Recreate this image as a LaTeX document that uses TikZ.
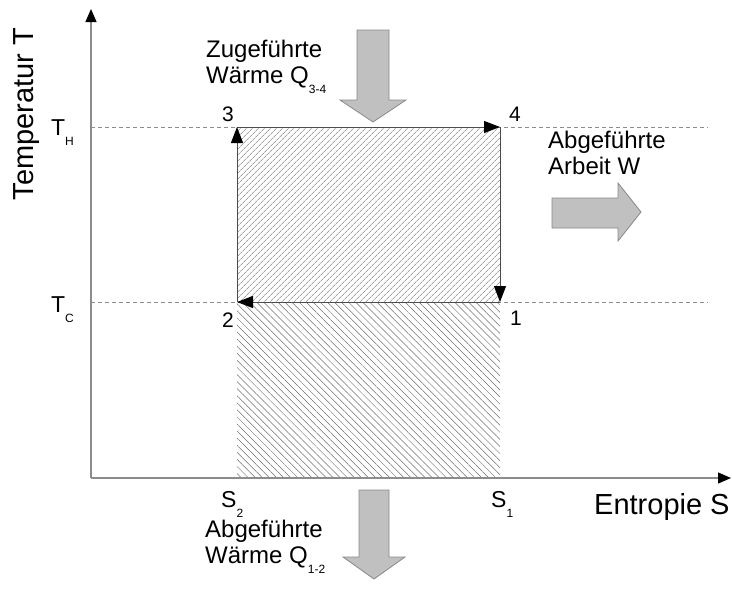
\documentclass[tikz,border=0pt]{standalone}
\usepackage{fontspec}
\setmainfont{Liberation Sans}
\usetikzlibrary{arrows.meta,patterns.meta}
\definecolor{axisgray}{HTML}{8C8C8C}
\definecolor{hatchgray}{HTML}{707070}
\definecolor{arrowfill}{HTML}{C0C0C0}
\definecolor{arrowedge}{HTML}{888888}
\newcommand{\lowsub}[1]{\raisebox{-10pt}{\fontsize{12}{12}\selectfont #1}}

\begin{document}
\begin{tikzpicture}[x=1pt,y=-1pt,
    axis/.style={draw=axisgray,line width=1.2pt,-{Triangle[length=13pt,width=11pt,color=black]}},
    level/.style={draw=axisgray,dash pattern=on 4pt off 3pt,line width=0.6pt},
    cycleedge/.style={draw=black!70,line width=1pt,-{Triangle[length=16pt,width=12pt,color=black]}},
    blockarrow/.style={fill=arrowfill,draw=arrowedge,line width=0.8pt},
    statelab/.style={font=\fontsize{21}{21}\selectfont,anchor=base,inner sep=0pt},
    varlab/.style={font=\fontsize{23}{23}\selectfont,anchor=base west,inner sep=0pt},
    axislab/.style={font=\fontsize{29}{29}\selectfont,inner sep=0pt},
    heatlab/.style={font=\fontsize{24}{26}\selectfont,align=left,anchor=north west,inner sep=0pt}]
  \useasboundingbox (0,0) rectangle (732,590);

  % corners of the cycle and the axes
  \coordinate (o) at (91,478);
  \coordinate (ytip) at (91,9);
  \coordinate (xtip) at (731,478);
  \coordinate (p1) at (500,302);
  \coordinate (p2) at (237,302);
  \coordinate (p3) at (237,127);
  \coordinate (p4) at (500,127);
  \coordinate (s1foot) at (o -| p1);
  \coordinate (thend) at (708,127);
  \coordinate (tcend) at (708,302);

  % hatched areas
  \fill[pattern={Lines[angle=45,distance=4pt,line width=0.5pt]},pattern color=hatchgray] (p2) rectangle (p4);
  \fill[pattern={Lines[angle=-45,distance=5pt,line width=0.5pt]},pattern color=hatchgray] (p2) rectangle (s1foot);

  \draw[level] (o |- p3) -- (thend);
  \draw[level] (o |- p2) -- (tcend);

  \draw[cycleedge] (p3) -- (p4);
  \draw[cycleedge] (p4) -- (p1);
  \draw[cycleedge] (p1) -- (p2);
  \draw[cycleedge] (p2) -- (p3);

  \draw[axis] (o) -- (ytip);
  \draw[axis] (o) -- (xtip);

  % labels
  \node[statelab] (n3) at (228,121) {3};
  \node[statelab] (n4) at (515,121) {4};
  \node[statelab] (n2) at (228,327) {2};
  \node[statelab] (n1) at (516,325) {1};
  \node[varlab] (th) at (51,135) {T\lowsub{H}};
  \node[varlab] (tc) at (51,312) {T\lowsub{C}};
  \node[varlab] (s2) at (221,507) {S\lowsub{2}};
  \node[varlab] (s1) at (491,507) {S\lowsub{1}};
  \node[axislab,rotate=90] (tlab) at (27,114) {Temperatur T};
  \node[axislab,anchor=base west] (slab) at (594,514) {Entropie S};

  \node[heatlab] (qin) at (206,40) {Zugeführte\\Wärme Q\lowsub{3-4}};
  \node[heatlab] (work) at (548,131) {Abgeführte\\Arbeit W};
  \node[heatlab] (qout) at (205,520) {Abgeführte\\Wärme Q\lowsub{1-2}};

  % heat and work arrows
  \draw[blockarrow] (357,30) -- (389,30) -- (389,100) -- (406,100) -- (373,122)
    -- (340,100) -- (357,100) -- cycle;
  \draw[blockarrow] (359,490) -- (389,490) -- (389,557) -- (405,557) -- (374,579)
    -- (343,557) -- (359,557) -- cycle;
  \draw[blockarrow] (552,198) -- (618,198) -- (618,183) -- (641,212) -- (618,241)
    -- (618,228) -- (552,228) -- cycle;
\end{tikzpicture}
\end{document}
